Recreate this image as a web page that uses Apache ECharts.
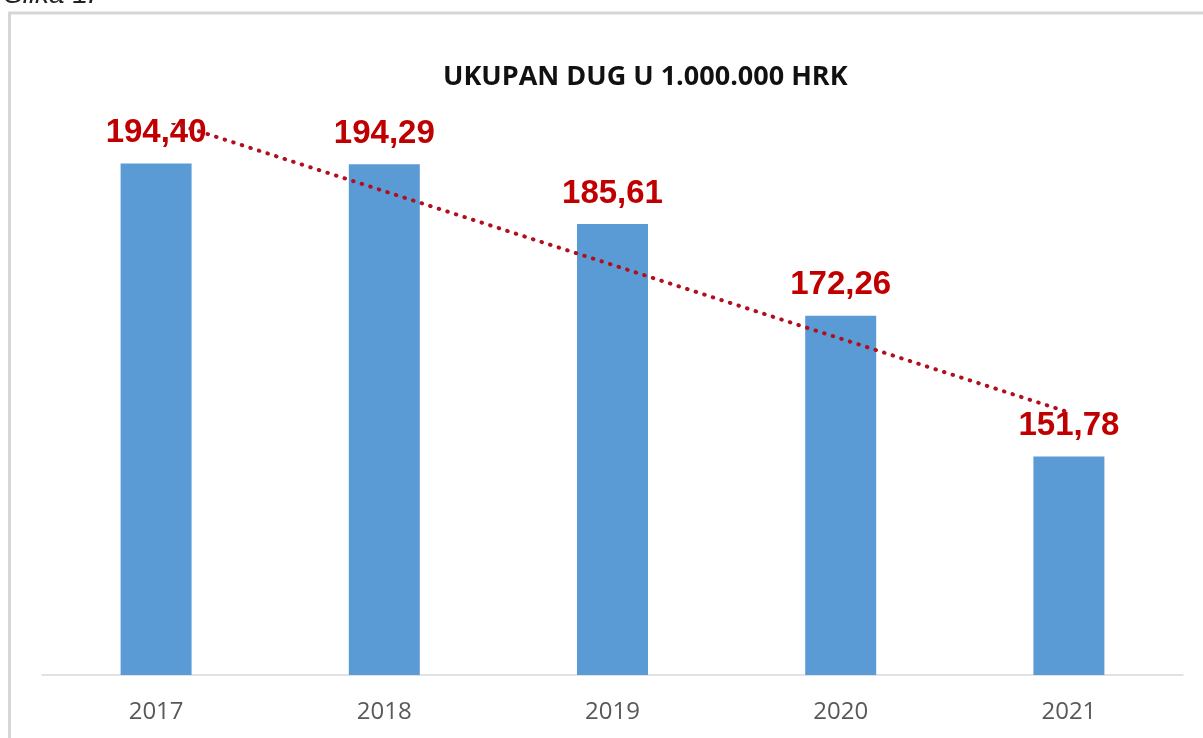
<!DOCTYPE html>
<html>
<head>
<meta charset="utf-8">
<script src="https://cdn.jsdelivr.net/npm/echarts@6/dist/echarts.min.js"></script>
<style>
    html, body { margin: 0; padding: 0; background: #fff; }
    #chart { width: 1203px; height: 738px; }
</style>
</head>
<body>
<div id="chart"></div>
<script>
// kategorije i vrijednosti (mil. HRK)
const years = ['2017', '2018', '2019', '2020', '2021'];
const debt = [194.40, 194.29, 185.61, 172.26, 151.78];
const debtLabels = ['194,40', '194,29', '185,61', '172,26', '151,78'];
// linearni trend, ocitano na prvoj i zadnjoj godini
const trend = [201.1, '-', '-', '-', 158.2];

const RED = '#C00000';

const chart = echarts.init(document.getElementById('chart'));

const option = {
    backgroundColor: '#fff',
    animation: false,
    title: {
        text: 'UKUPAN DUG U 1.000.000 HRK',
        left: 438,
        top: 59,
        textStyle: { color: '#111', fontSize: 27, fontWeight: 'bold', fontFamily: 'Open Sans' }
    },
    graphic: [
        {
            type: 'rect',
            shape: { x: 9.5, y: 13, width: 1400, height: 900 },
            style: { fill: null, stroke: '#D6D6D6', lineWidth: 3 },
            silent: true
        },
        {
            type: 'text',
            x: 4,
            y: -19,
            style: { text: 'Slika 1.', fill: '#222', font: 'italic 28px "Liberation Sans"' }
        }
    ],
    grid: { left: 42, right: 20, top: 125, bottom: 63 },
    xAxis: {
        type: 'category',
        data: years,
        axisLine: { lineStyle: { color: '#D9D9D9', width: 1.5 } },
        axisTick: { show: false },
        axisLabel: { color: '#595959', fontSize: 24, margin: 25, fontFamily: 'Open Sans' }
    },
    yAxis: {
        type: 'value',
        min: 120,
        max: 200,
        show: false
    },
    series: [
        {
            name: 'Ukupan dug',
            type: 'bar',
            data: debt,
            barWidth: 71,
            itemStyle: { color: '#5B9BD5' },
            label: {
                show: true,
                position: 'top',
                distance: 14,
                color: RED,
                fontSize: 33,
                fontWeight: 'bold',
                fontFamily: 'Liberation Sans',
                formatter: p => debtLabels[p.dataIndex]
            },
            z: 2
        },
        {
            name: 'Trend',
            type: 'line',
            data: trend,
            connectNulls: true,
            symbol: 'none',
            lineStyle: { color: '#B0101E', width: 4, type: [0.5, 8.5], cap: 'round' },
            z: 3
        }
    ]
};

chart.setOption(option);
</script>
</body>
</html>
